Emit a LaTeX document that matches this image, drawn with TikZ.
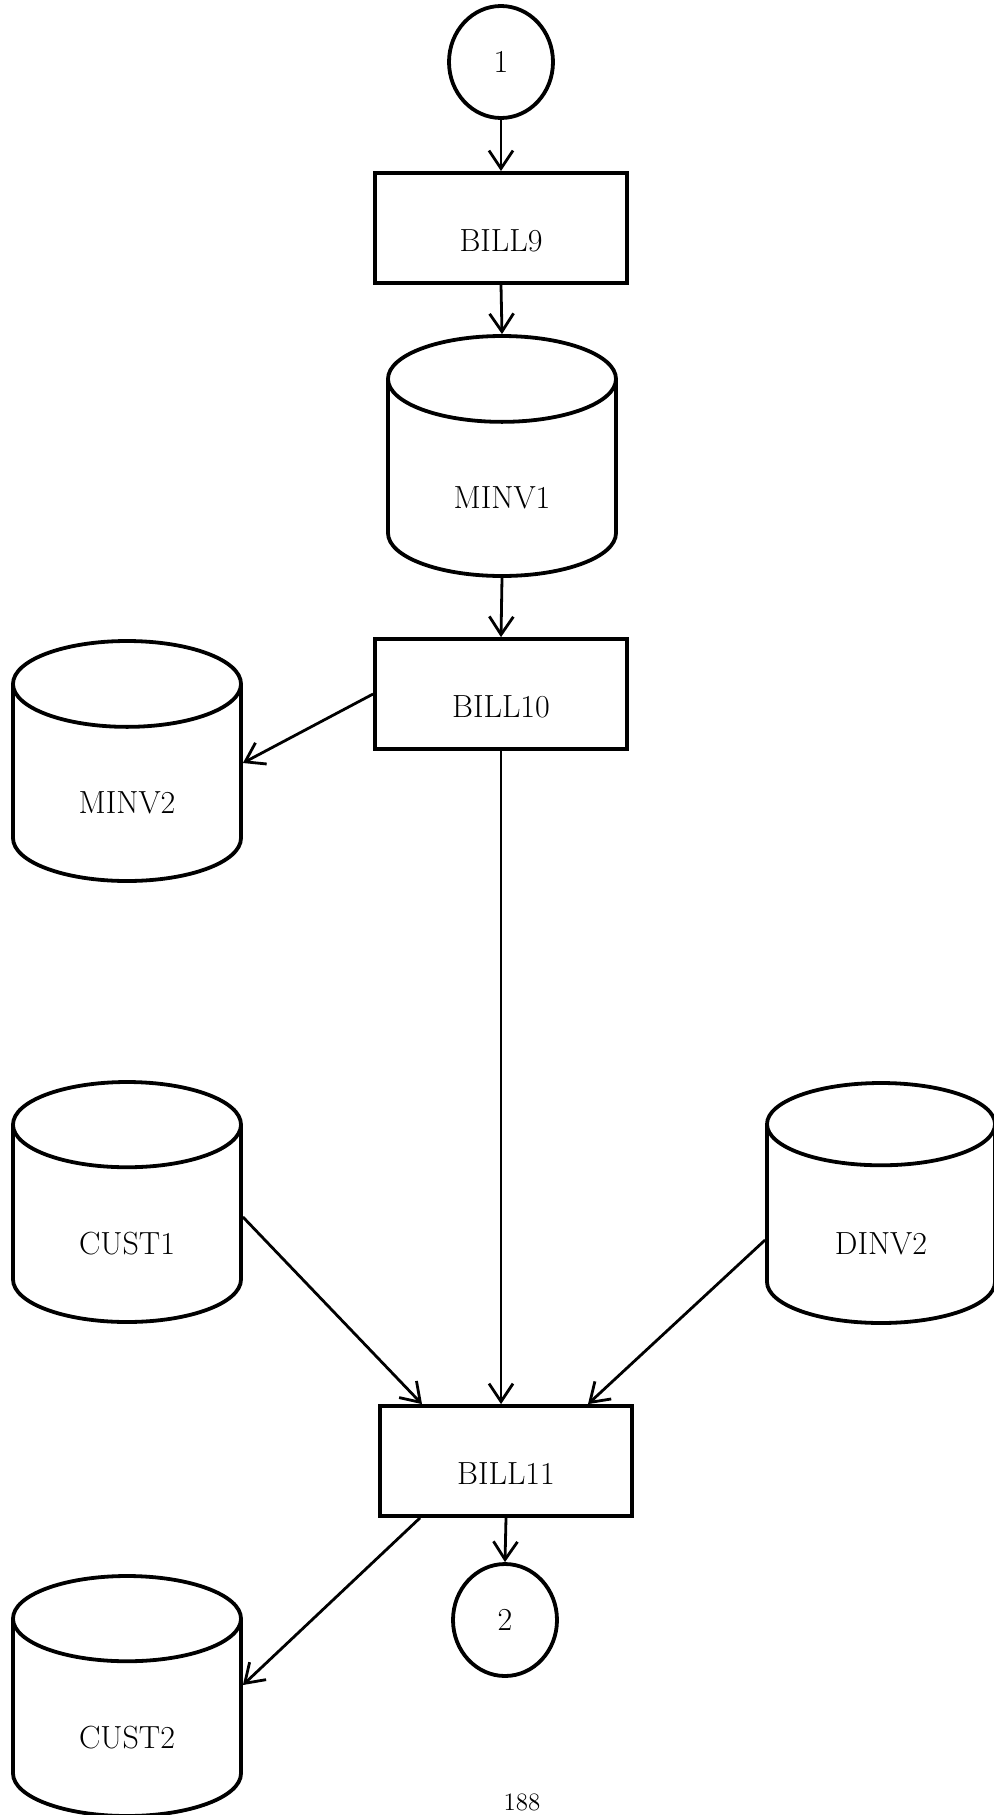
\documentclass[tikz,border=0pt]{standalone}
\usetikzlibrary{shapes.geometric,arrows.meta}
\begin{document}
\begin{tikzpicture}[x=0.5pt,y=-0.5pt,
  proc/.style={draw,line width=1.9pt,rectangle,minimum width=126pt,minimum height=55pt,font=\fontsize{16}{19}\selectfont,text height=23pt,text depth=0pt},
  store/.style={draw,line width=1.9pt,cylinder,shape border rotate=90,aspect=0.78,anchor=shape center,minimum width=114pt,minimum height=120pt,font=\fontsize{16}{19}\selectfont,text height=23pt,text depth=0pt},
  conn/.style={draw,line width=1.9pt,ellipse,minimum width=52pt,minimum height=56pt,font=\fontsize{16}{19}\selectfont},
  flow/.style={-{Straight Barb[length=9pt,width=12pt]},line width=1.4pt}]
\useasboundingbox (0,0) rectangle (994,1815);
\clip (0,0) rectangle (994,1815);
\node[conn] (c1) at (501,62) {1};
\node[proc] (bill9) at (501,228) {BILL9};
\node[store] (minv1) at (502,456) {MINV1};
\node[proc] (bill10) at (501,694) {BILL10};
\node[store] (minv2) at (127,761) {MINV2};
\node[store] (cust1) at (127,1202) {CUST1};
\node[store] (dinv2) at (881,1203) {DINV2};
\node[proc] (bill11) at (506,1461) {BILL11};
\node[conn] (c2) at (505,1620) {2};
\node[store] (cust2) at (127,1696) {CUST2};
\node[font=\fontsize{12.5}{15}\selectfont] (page) at (522,1802) {188};
% flow lines
\draw[flow] (c1.south) -- (bill9.north);
\draw[flow] (bill9.south) -- (minv1.top);
\draw[flow] (minv1.bottom) -- (bill10.north);
\draw[flow] (bill10.west) -- ([yshift=-1pt]minv2.shape center -| minv2.0);
\draw[flow] (bill10.south) -- (bill10.south |- bill11.north);
\draw[flow] ([yshift=-7.5pt]cust1.shape center -| cust1.0) -- ([xshift=-42pt]bill11.north);
\draw[flow] ([yshift=-18.5pt]dinv2.shape center -| dinv2.180) -- ([xshift=41pt]bill11.north);
\draw[flow] (bill11.south) -- (c2.north);
\draw[flow] ([xshift=-43pt]bill11.south) -- ([yshift=5.5pt]cust2.shape center -| cust2.0);
\end{tikzpicture}
\end{document}
